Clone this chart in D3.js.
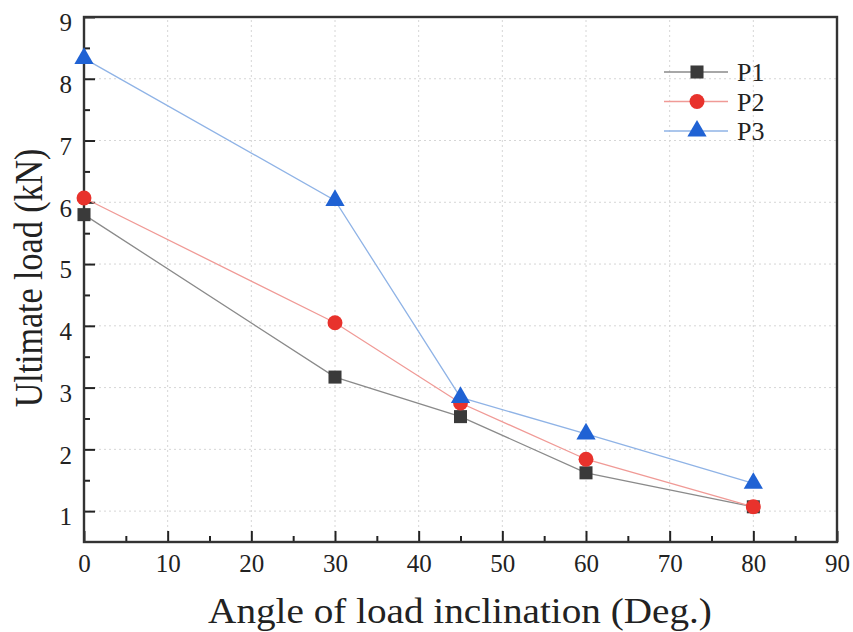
<!DOCTYPE html>
<html>
<head>
<meta charset="utf-8">
<script src="https://cdn.jsdelivr.net/npm/d3@7"></script>
<style>
  body { margin: 0; background: #fff; }
  svg text { font-family: 'Liberation Serif', 'Times New Roman', serif; fill: #222; }
</style>
</head>
<body>
<svg id="chart" width="853" height="632"></svg>
<script>
// data
var angles = [0, 30, 45, 60, 80];
var p1 = [5.80, 3.17, 2.53, 1.62, 1.07];
var p2 = [6.07, 4.05, 2.75, 1.84, 1.07];
var p3 = [8.33, 6.03, 2.84, 2.25, 1.45];
var seriesNames = ["P1", "P2", "P3"];
var xTicks = [0, 10, 20, 30, 40, 50, 60, 70, 80, 90];
var yTicks = [1, 2, 3, 4, 5, 6, 7, 8, 9];

var serif = "'Liberation Serif', 'Times New Roman', serif";

var series = [
    { name: "P1", values: p1, color: "#3a3a3a", line: "#8a8a8a", shape: d3.symbolSquare, size: 170 },
    { name: "P2", values: p2, color: "#e8322c", line: "#f09a96", shape: d3.symbolCircle, size: 175 },
    { name: "P3", values: p3, color: "#1f62d4", line: "#8fb3e6", shape: d3.symbolTriangle, size: 160 }
];

var svg = d3.select("#chart"),
    margin = { top: 17, left: 84, bottom: 90, right: 16 },
    width = +svg.attr("width"),
    height = +svg.attr("height");

var x = d3.scaleLinear()
    .domain([0, 90])
    .range([margin.left, width - margin.right]);

var y = d3.scaleLinear()
    .domain([0.5, 9])
    .range([height - margin.bottom, margin.top]);

// grid
var grid = svg.append("g").attr("class", "grid")
grid.selectAll(".gx")
    .data(xTicks.filter(d => d > 0 && d < 90))
    .enter().append("line")
    .attr("x1", d => x(d)).attr("x2", d => x(d))
    .attr("y1", y(0.5)).attr("y2", y(9))
    .attr("stroke", "#d6d6d6")
    .attr("stroke-dasharray", "2,3")
grid.selectAll(".gy")
    .data(yTicks.filter(d => d < 9))
    .enter().append("line")
    .attr("x1", x(0)).attr("x2", x(90))
    .attr("y1", d => y(d)).attr("y2", d => y(d))
    .attr("stroke", "#d6d6d6")
    .attr("stroke-dasharray", "2,3")

// axes, ticks pointing inward
var xAxis = svg.append("g")
    .attr("transform", `translate(0,${y(0.5)})`)
    .call(d3.axisBottom(x).tickValues(xTicks).tickSize(-11).tickPadding(12).tickSizeOuter(0))
var xMinor = svg.append("g")
    .attr("transform", `translate(0,${y(0.5)})`)
    .call(d3.axisBottom(x).tickValues(d3.range(5, 90, 10)).tickSize(-6).tickFormat("").tickSizeOuter(0))

var yAxis = svg.append("g")
    .attr("transform", `translate(${x(0)},0)`)
    .call(d3.axisLeft(y).tickValues(yTicks).tickSize(-11).tickPadding(12).tickSizeOuter(0))
var yMinor = svg.append("g")
    .attr("transform", `translate(${x(0)},0)`)
    .call(d3.axisLeft(y).tickValues(d3.range(1.5, 9, 1)).tickSize(-6).tickFormat("").tickSizeOuter(0))

svg.selectAll(".domain").remove()
svg.selectAll(".tick line").attr("stroke", "#222").attr("stroke-width", 2)
xAxis.attr("font-family", serif).attr("font-size", 25)
yAxis.attr("font-family", serif).attr("font-size", 25)
svg.selectAll(".tick text")
    .style("font-family", serif)
    .style("font-size", "25px")
    .attr("fill", "#333")
yAxis.selectAll(".tick text").attr("dy", "0.55em")

// frame
svg.append("rect")
    .attr("x", x(0)).attr("y", y(9))
    .attr("width", x(90) - x(0)).attr("height", y(0.5) - y(9))
    .attr("fill", "none")
    .attr("stroke", "#333")
    .attr("stroke-width", 2.4)

// lines and markers
var line = d3.line()
    .x((d, i) => x(angles[i]))
    .y(d => y(d))

series.forEach(function (s) {
    svg.append("path")
        .datum(s.values)
        .attr("fill", "none")
        .attr("stroke", s.line)
        .attr("stroke-width", 1.3)
        .attr("d", line)
})
series.forEach(function (s) {
    svg.selectAll(".m" + s.name)
        .data(s.values)
        .enter().append("path")
        .attr("transform", (d, i) => `translate(${x(angles[i])},${y(d)})`)
        .attr("d", d3.symbol().type(s.shape).size(s.size))
        .attr("fill", s.color)
})

// legend
var legend = svg.append("g").attr("transform", "translate(664,72)")
var rows = legend.selectAll("g")
    .data(series)
    .enter().append("g")
    .attr("transform", (d, i) => `translate(0,${i * 29.5})`)
rows.append("line")
    .attr("x1", 0).attr("x2", 64)
    .attr("stroke", d => d.line)
    .attr("stroke-width", 1.3)
rows.append("path")
    .attr("transform", "translate(33,0)")
    .attr("d", d => d3.symbol().type(d.shape).size(d.size)())
    .attr("fill", d => d.color)
rows.append("text")
    .attr("x", 73)
    .attr("dy", "0.36em")
    .style("font-size", "26px")
    .text((d, i) => seriesNames[i])

// axis titles (the source picture is a bit stretched sideways)
svg.append("text")
    .attr("transform", "translate(460,623) scale(1.12,1)")
    .attr("text-anchor", "middle")
    .style("font-size", "35px")
    .text("Angle of load inclination (Deg.)")

svg.append("text")
    .attr("transform", "translate(42,278) rotate(-90) scale(1,1.2)")
    .attr("text-anchor", "middle")
    .style("font-size", "34px")
    .text("Ultimate load (kN)")
</script>
</body>
</html>
